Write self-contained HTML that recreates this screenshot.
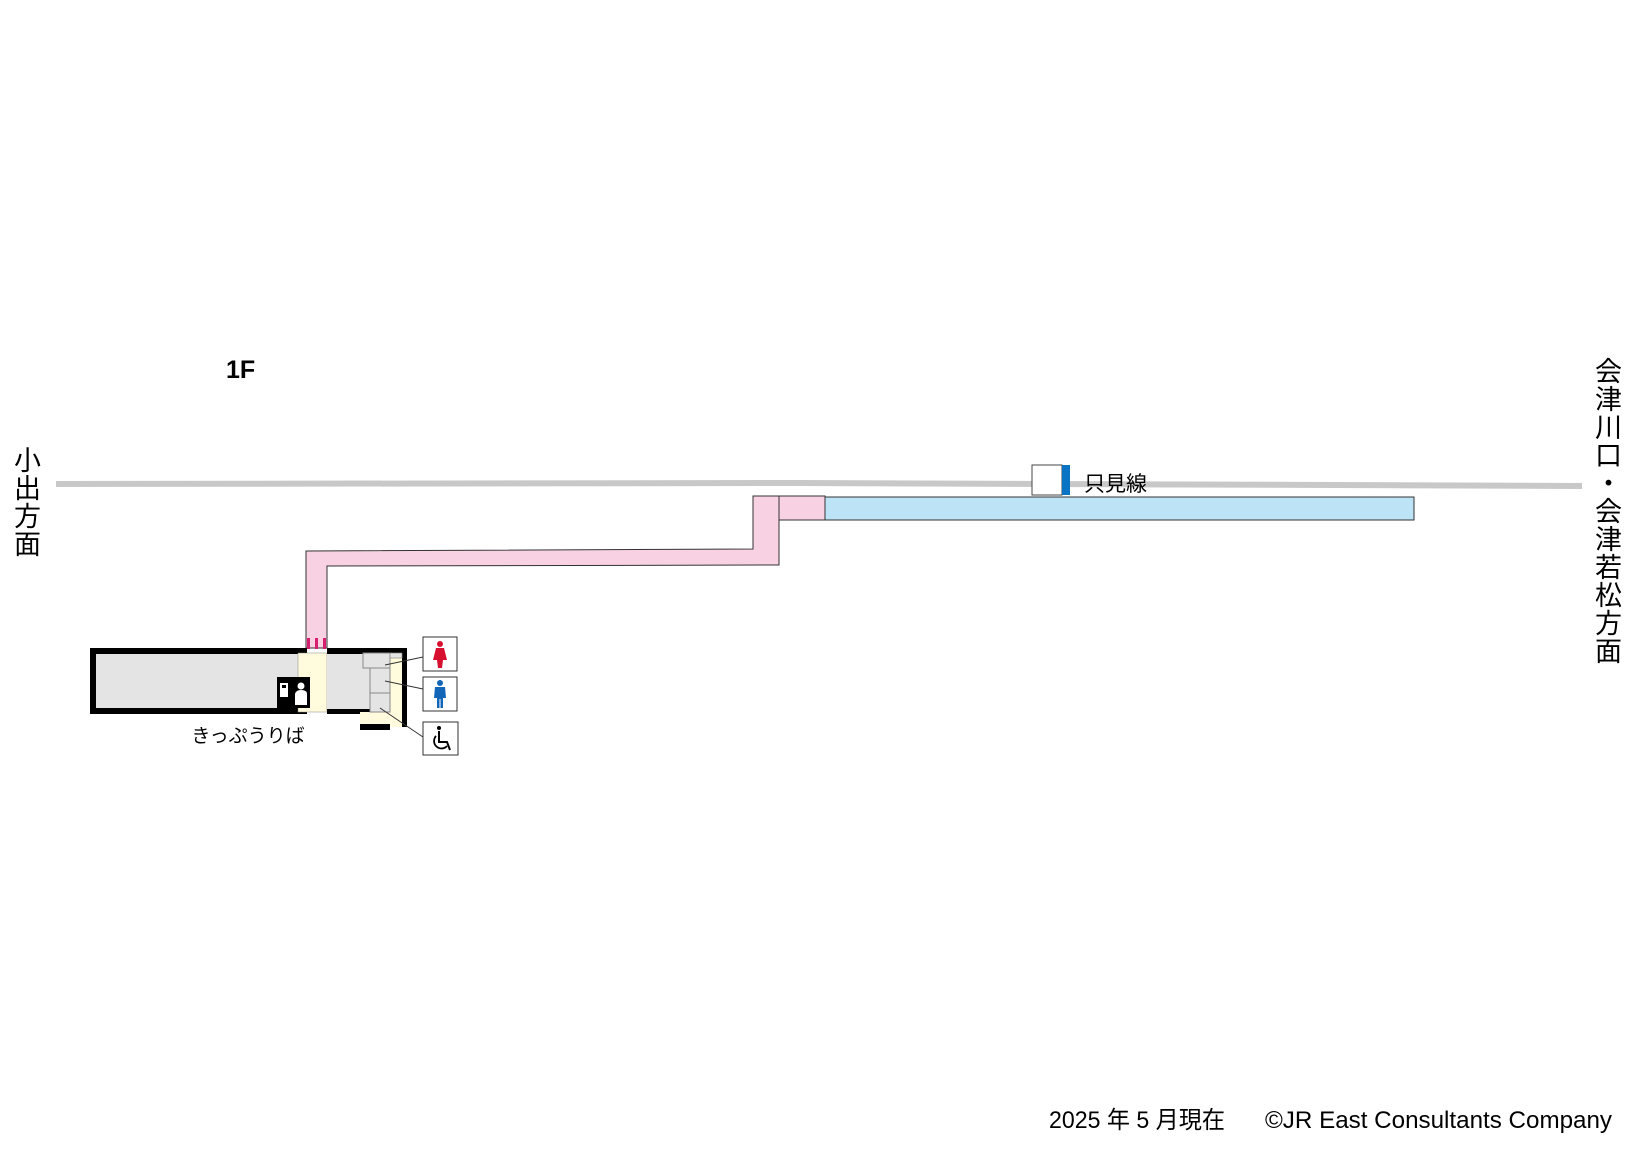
<!DOCTYPE html>
<html><head><meta charset="utf-8"><style>
html,body{margin:0;padding:0;background:#fff;}
svg{display:block;}
text{font-family:"Liberation Sans","Noto Sans CJK JP",sans-serif;fill:#000;}
</style></head><body>
<svg width="1642" height="1162" viewBox="0 0 1642 1162" xmlns="http://www.w3.org/2000/svg">
<!-- track -->
<polygon points="56,481 800,480 1582,483 1582,489 800,486 56,487" fill="#c8c8c8"/>
<!-- pink passage -->
<polygon points="306,648 306,551 753,549 753,496 779,496 779,565 327,566 327,648" fill="#f8d2e2" stroke="#333" stroke-width="1"/>
<rect x="779" y="496" width="46" height="24" fill="#f8d2e2" stroke="#333" stroke-width="1"/>
<rect x="825" y="497" width="589" height="23" fill="#bde3f7" stroke="#333" stroke-width="1"/>
<!-- station sign -->
<rect x="1032" y="465" width="30" height="30" fill="#fff" stroke="#444" stroke-width="1"/>
<rect x="1062" y="465" width="8" height="30" fill="#0a74c4"/>
<text x="1084" y="491" font-size="21">只見線</text>
<!-- magenta stripes -->
<rect x="307" y="638" width="3" height="11" fill="#d6206f"/>
<rect x="315" y="638" width="3" height="11" fill="#d6206f"/>
<rect x="323" y="638" width="3" height="11" fill="#d6206f"/>
<!-- left room -->
<rect x="90" y="648" width="217" height="66" fill="#000"/>
<rect x="96" y="654" width="202" height="54" fill="#e4e4e4"/>
<!-- yellow corridor -->
<rect x="298" y="653" width="29" height="59" fill="#fffbdc" stroke="#888" stroke-width="0.5"/>
<!-- ticket machine -->
<rect x="277" y="677" width="33" height="31" fill="#000"/>
<rect x="280" y="683" width="8" height="14" fill="#fff"/>
<rect x="282" y="685" width="4" height="3" fill="#000"/>
<circle cx="301" cy="686" r="3.5" fill="#fff"/>
<path d="M295,705 L295,694 Q296,690 301,690 Q307,690 307,694 L307,705 Z" fill="#fff"/>
<!-- right room -->
<rect x="327" y="648" width="80" height="6" fill="#000"/>
<rect x="402" y="648" width="5" height="79" fill="#000"/>
<rect x="327" y="654" width="43" height="55" fill="#e4e4e4"/>
<rect x="327" y="709" width="43" height="5" fill="#000"/>
<rect x="390" y="658" width="12" height="69" fill="#fffbdc"/>
<rect x="360" y="712" width="42" height="15" fill="#fffbdc"/>
<rect x="360" y="724" width="30" height="6" fill="#000"/>
<rect x="363" y="653" width="27" height="15" fill="#e4e4e4" stroke="#888" stroke-width="1"/>
<rect x="390" y="653" width="12" height="5" fill="#e4e4e4" stroke="#888" stroke-width="0.7"/>
<rect x="370" y="668" width="20" height="25" fill="#e4e4e4" stroke="#888" stroke-width="1"/>
<rect x="370" y="693" width="20" height="19" fill="#e4e4e4" stroke="#888" stroke-width="1"/>
<!-- leader lines -->
<line x1="385" y1="665" x2="423" y2="657" stroke="#333" stroke-width="1"/>
<line x1="385" y1="681" x2="423" y2="689" stroke="#333" stroke-width="1"/>
<line x1="380" y1="708" x2="423" y2="737" stroke="#333" stroke-width="1"/>
<!-- icons -->
<rect x="423" y="637" width="34" height="34" fill="#fff" stroke="#333" stroke-width="1"/>
<circle cx="440" cy="644" r="3" fill="#d7102f"/>
<path d="M436,648 L444,648 L447,660 L443,660 L442,668 L438,668 L437,660 L433,660 Z" fill="#d7102f"/>
<rect x="423" y="677" width="34" height="34" fill="#fff" stroke="#333" stroke-width="1"/>
<circle cx="440" cy="683" r="3" fill="#1266b8"/>
<path d="M435,687 L445,687 L446,698 L443,698 L443,708 L440.5,708 L440.5,699 L439.5,699 L439.5,708 L437,708 L437,698 L434,698 Z" fill="#1266b8"/>
<rect x="423" y="722" width="35" height="33" fill="#fff" stroke="#333" stroke-width="1"/>
<circle cx="439" cy="728" r="2" fill="#000"/>
<path d="M439,731 L439,742 L447,742 L450,750" fill="none" stroke="#000" stroke-width="2"/>
<path d="M436,736 A7,7 0 1 0 447,746" fill="none" stroke="#000" stroke-width="1.8"/>
<text x="248" y="742" font-size="19" text-anchor="middle">きっぷうりば</text>
<!-- labels -->
<text x="226" y="378" font-size="25" font-weight="bold">1F</text>
<g font-size="27">
<text x="14" y="470">小</text><text x="14" y="498">出</text><text x="14" y="526">方</text><text x="14" y="554">面</text>
</g>
<g font-size="27">
<text x="1595" y="381">会</text><text x="1595" y="409">津</text><text x="1595" y="437">川</text><text x="1595" y="465">口</text><text x="1595" y="493">・</text><text x="1595" y="521">会</text><text x="1595" y="549">津</text><text x="1595" y="577">若</text><text x="1595" y="605">松</text><text x="1595" y="633">方</text><text x="1595" y="661">面</text>
</g>
<text x="1049" y="1128" font-size="24" textLength="176" lengthAdjust="spacingAndGlyphs">2025 年 5 月現在</text>
<text x="1265" y="1128" font-size="24" textLength="347" lengthAdjust="spacingAndGlyphs">©JR East Consultants Company</text>
</svg>
</body></html>
